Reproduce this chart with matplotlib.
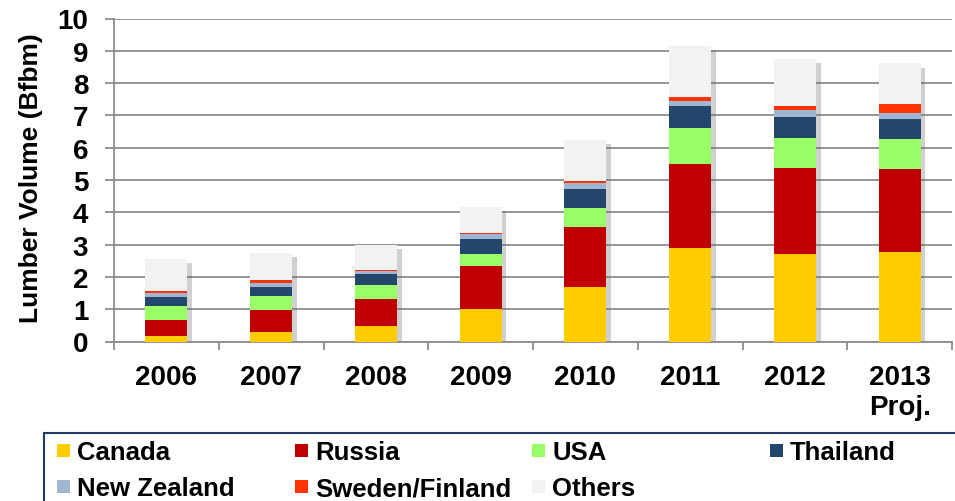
import numpy as np
import matplotlib
matplotlib.use('Agg')
import matplotlib.pyplot as plt
import matplotlib.patheffects as pe
from matplotlib.patches import Rectangle

plt.rcParams['font.family'] = ['Liberation Sans', 'DejaVu Sans']
plt.rcParams['font.weight'] = 'bold'

years = ['2006', '2007', '2008', '2009', '2010', '2011', '2012', '2013\nProj.']
countries = ['Canada', 'Russia', 'USA', 'Thailand', 'New Zealand', 'Sweden/Finland', 'Others']
colors = ['#FFCC00', '#C00000', '#99FF66', '#23466C', '#A0B6D0', '#FF3300', '#F2F2F2']

canada = [0.16, 0.28, 0.47, 1.00, 1.69, 2.89, 2.72, 2.77]
russia = [0.50, 0.69, 0.85, 1.33, 1.85, 2.59, 2.65, 2.56]
usa = [0.43, 0.43, 0.43, 0.39, 0.59, 1.13, 0.93, 0.94]
thailand = [0.30, 0.30, 0.33, 0.44, 0.60, 0.68, 0.65, 0.62]
new_zealand = [0.11, 0.11, 0.11, 0.16, 0.18, 0.17, 0.21, 0.18]
sweden_finland = [0.06, 0.09, 0.03, 0.05, 0.05, 0.11, 0.12, 0.29]
others = [0.99, 0.84, 0.77, 0.79, 1.29, 1.58, 1.46, 1.25]

series = [canada, russia, usa, thailand, new_zealand, sweden_finland, others]

W, H = 955, 502
fig = plt.figure(figsize=(W / 100, H / 100), dpi=100)
ax = fig.add_axes([114 / W, 1 - 342.5 / H, (952 - 114) / W, (342.5 - 19.5) / H])

x = np.arange(len(years))
width = 0.4
totals = np.sum(np.array(series), axis=0)

# soft shadow behind each stack
ax.bar(x, totals, width, color='none', edgecolor='none', zorder=2,
       path_effects=[pe.SimplePatchShadow(offset=(3.5, -3), shadow_rgbFace='#666666', alpha=0.3)])

bottom = np.zeros(len(years))
for vals, c, name in zip(series, colors, countries):
    ax.bar(x, vals, width, bottom=bottom, color=c, edgecolor='none', zorder=3, label=name)
    bottom += np.array(vals)

ax.set_xlim(-0.5, len(years) - 0.5)
ax.set_ylim(0, 10)
ax.set_yticks(range(0, 11))
ax.yaxis.grid(True, color='#8C8C8C', linewidth=1.3)
ax.set_axisbelow(True)

ax.set_xticks(x)
ax.set_xticklabels(years, fontsize=20, fontweight='bold')
ax.set_xticks(np.arange(-0.5, len(years)), minor=True)
ax.tick_params(axis='x', which='major', length=0, pad=16)
ax.tick_params(axis='x', which='minor', length=6, color='#8C8C8C', width=1.3)
ax.tick_params(axis='y', length=6.5, color='#8C8C8C', width=1.3, pad=12, labelsize=20)
for lab in ax.get_yticklabels():
    lab.set_fontweight('bold')

for s in ['top', 'right']:
    ax.spines[s].set_visible(False)
for s in ['left', 'bottom']:
    ax.spines[s].set_color('#8C8C8C')
    ax.spines[s].set_linewidth(1.3)

ax.set_ylabel('Lumber Volume (Bfbm)', fontsize=19, fontweight='bold')
ax.yaxis.set_label_coords(-0.0847, 0.508)

# legend box, laid out as a 4-column grid
fig.add_artist(Rectangle((44 / W, -0.02), (W + 5 - 44) / W, (H - 434) / H + 0.02,
                         transform=fig.transFigure, facecolor='white',
                         edgecolor='#1F3864', linewidth=1.5, clip_on=False))
col_x = [57, 295, 532, 770]
row_y = [451, 487]
sq = 13
for i, (name, c) in enumerate(zip(countries, colors)):
    r, k = divmod(i, 4)
    px, py = col_x[k], row_y[r]
    fig.add_artist(Rectangle((px / W, (H - py - sq / 2) / H), sq / W, sq / H,
                             transform=fig.transFigure, facecolor=c, edgecolor='none'))
    fig.text((px + sq + 7) / W, (H - py) / H, name, fontsize=18.5, fontweight='bold',
             va='center_baseline', ha='left')

fig.savefig('out.png', dpi=100)
